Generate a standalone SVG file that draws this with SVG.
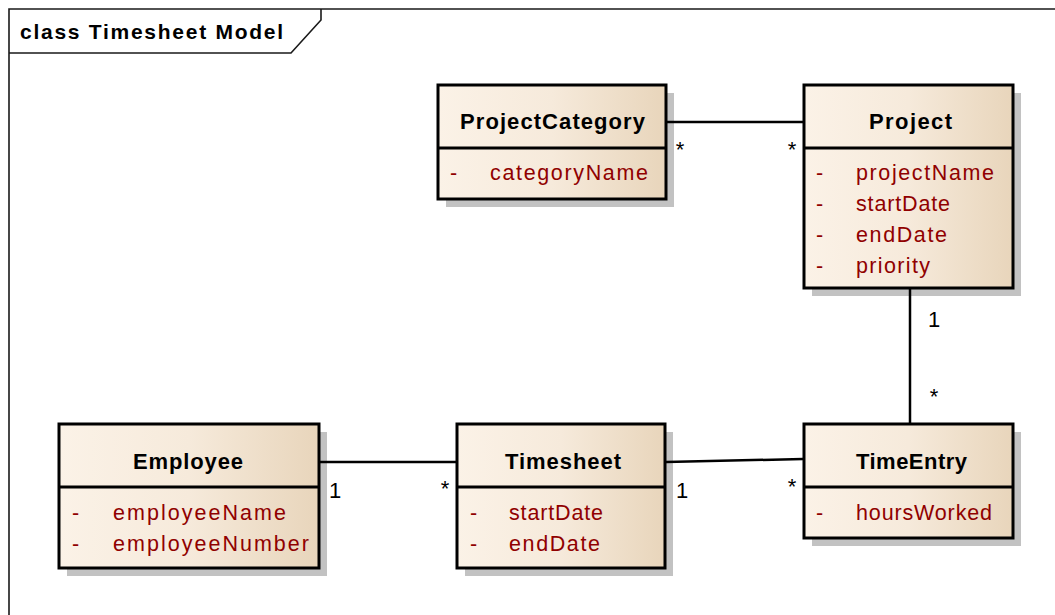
<svg xmlns="http://www.w3.org/2000/svg" width="1055" height="615" viewBox="0 0 1055 615">
<style>
.frame{fill:none;stroke:#1a1a1a;stroke-width:1.6}
.shadow{fill:#c2c2c2}
.box{fill:url(#grad);stroke:#000;stroke-width:3}
.div{stroke:#000;stroke-width:3}
.conn{fill:none;stroke:#000;stroke-width:2.5}
.title{font-family:"Liberation Sans",Arial,sans-serif;font-weight:bold;font-size:21px;fill:#000}
.head{font-family:"Liberation Sans",Arial,sans-serif;font-weight:bold;font-size:22px;fill:#000}
.attr{font-family:"Liberation Sans",Arial,sans-serif;font-size:21.5px;fill:#900000}
.mult{font-family:"Liberation Sans",Arial,sans-serif;font-size:22px;fill:#000;text-anchor:middle}
</style>
<defs>
<linearGradient id="grad" x1="0" y1="0" x2="1" y2="0">
<stop offset="0" stop-color="#fbf2e7"/>
<stop offset="0.5" stop-color="#f6eadb"/>
<stop offset="1" stop-color="#e8d5bb"/>
</linearGradient>
</defs>
<rect width="1055" height="615" fill="#fff"/>
<g id="frame">
<path class="frame" d="M9,615 V9 H1055"/>
<path class="frame" d="M9,53 H291 L321,20 V9"/>
<text class="title" x="20" y="39" textLength="263" lengthAdjust="spacing">class Timesheet Model</text>
</g>
<g id="ProjectCategory">
<rect class="shadow" x="446" y="93" width="228" height="114"/>
<rect class="box" x="438" y="85" width="228" height="114"/>
<line class="div" x1="438" y1="148" x2="666" y2="148"/>
<text class="head" x="460" y="129" textLength="185" lengthAdjust="spacing">ProjectCategory</text>
<text class="attr" x="450" y="180">-</text>
<text class="attr" x="490" y="180" textLength="158" lengthAdjust="spacing">categoryName</text>
</g>
<g id="Project">
<rect class="shadow" x="812" y="93" width="209" height="203"/>
<rect class="box" x="804" y="85" width="209" height="203"/>
<line class="div" x1="804" y1="148" x2="1013" y2="148"/>
<text class="head" x="869" y="129" textLength="83" lengthAdjust="spacing">Project</text>
<text class="attr" x="816" y="180">-</text>
<text class="attr" x="856" y="180" textLength="138" lengthAdjust="spacing">projectName</text>
<text class="attr" x="816" y="211">-</text>
<text class="attr" x="856" y="211" textLength="94" lengthAdjust="spacing">startDate</text>
<text class="attr" x="816" y="242">-</text>
<text class="attr" x="856" y="242" textLength="91" lengthAdjust="spacing">endDate</text>
<text class="attr" x="816" y="273">-</text>
<text class="attr" x="856" y="273" textLength="74" lengthAdjust="spacing">priority</text>
</g>
<g id="Employee">
<rect class="shadow" x="67" y="432" width="260" height="144"/>
<rect class="box" x="59" y="424" width="260" height="144"/>
<line class="div" x1="59" y1="487" x2="319" y2="487"/>
<text class="head" x="133" y="469" textLength="110" lengthAdjust="spacing">Employee</text>
<text class="attr" x="72" y="520">-</text>
<text class="attr" x="113" y="520" textLength="173" lengthAdjust="spacing">employeeName</text>
<text class="attr" x="72" y="551">-</text>
<text class="attr" x="113" y="551" textLength="196" lengthAdjust="spacing">employeeNumber</text>
</g>
<g id="Timesheet">
<rect class="shadow" x="465" y="432" width="208" height="144"/>
<rect class="box" x="457" y="424" width="208" height="144"/>
<line class="div" x1="457" y1="487" x2="665" y2="487"/>
<text class="head" x="505" y="469" textLength="116" lengthAdjust="spacing">Timesheet</text>
<text class="attr" x="470" y="520">-</text>
<text class="attr" x="509" y="520" textLength="94" lengthAdjust="spacing">startDate</text>
<text class="attr" x="470" y="551">-</text>
<text class="attr" x="509" y="551" textLength="91" lengthAdjust="spacing">endDate</text>
</g>
<g id="TimeEntry">
<rect class="shadow" x="812" y="432" width="209" height="114"/>
<rect class="box" x="804" y="424" width="209" height="114"/>
<line class="div" x1="804" y1="487" x2="1013" y2="487"/>
<text class="head" x="856" y="469" textLength="111" lengthAdjust="spacing">TimeEntry</text>
<text class="attr" x="816" y="520">-</text>
<text class="attr" x="856" y="520" textLength="136" lengthAdjust="spacing">hoursWorked</text>
</g>
<g id="connectors">
<line class="conn" x1="667" y1="122" x2="803" y2="122"/>
<line class="conn" x1="910" y1="289" x2="910" y2="423"/>
<line class="conn" x1="320" y1="462" x2="456" y2="462"/>
<line class="conn" x1="666" y1="462" x2="803" y2="459"/>
<text class="mult" x="680" y="157">*</text>
<text class="mult" x="792" y="157">*</text>
<text class="mult" x="934" y="327">1</text>
<text class="mult" x="934" y="404">*</text>
<text class="mult" x="335" y="498">1</text>
<text class="mult" x="445" y="496">*</text>
<text class="mult" x="682" y="498">1</text>
<text class="mult" x="792" y="494">*</text>
</g>
</svg>
